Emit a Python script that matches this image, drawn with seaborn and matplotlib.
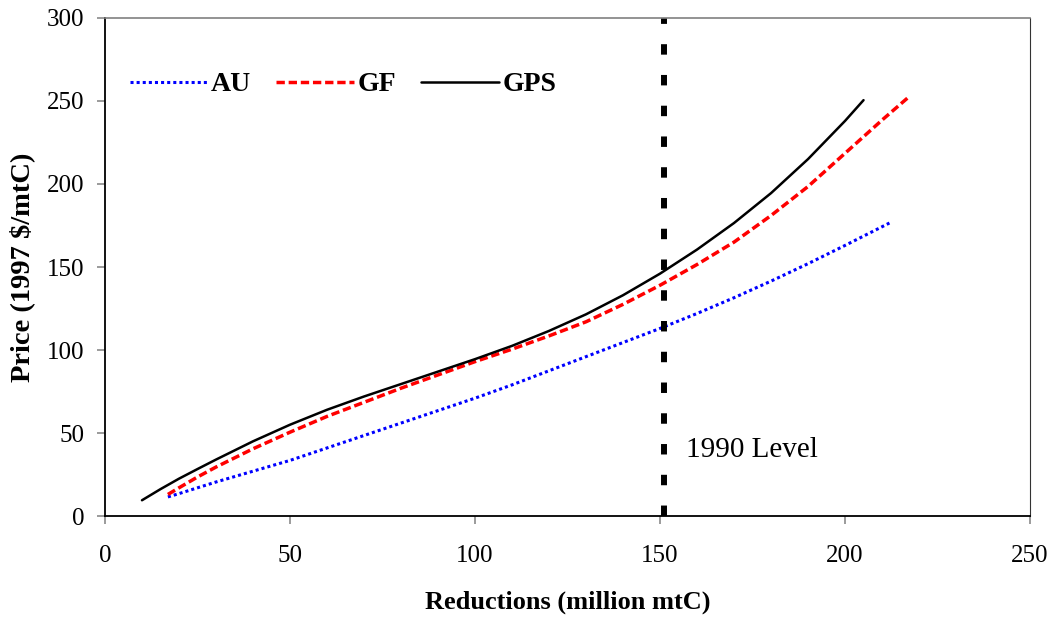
import pandas as pd
import matplotlib.pyplot as plt
import seaborn as sns

# Values
gps_x = [10, 15, 20, 25, 30, 40, 50, 60, 70, 80, 90, 100, 110, 120, 130, 140, 150, 160, 170, 180, 190, 200, 205]
gps_y = [9.5, 16.2, 22.5, 28.3, 34, 45, 55, 64, 72, 79.5, 87, 94.5, 102.5, 111.5, 121.5, 133, 146, 160.5, 176.5, 194.5, 215, 238, 250.5]
gf_x = [17, 20, 25, 30, 40, 50, 60, 70, 80, 90, 100, 110, 120, 130, 140, 150, 160, 170, 180, 190, 200, 210, 217]
gf_y = [13, 17, 23.5, 29.5, 40.5, 50.5, 60, 68.5, 77, 85, 93, 100.5, 108.5, 117, 127.5, 139, 151.5, 165, 181, 198.5, 218.5, 238.5, 252]
au_x = [17, 20, 25, 30, 40, 50, 60, 70, 80, 90, 100, 110, 120, 130, 140, 150, 160, 170, 180, 190, 200, 212]
au_y = [11.5, 13.5, 17, 20.5, 27, 33.5, 41, 48.5, 56, 63.5, 71, 79, 87.5, 96, 104.5, 113, 122, 131.5, 141.5, 152, 163, 176.5]
level_1990 = 151

sns.set_theme(style="ticks")
plt.rcParams['font.family'] = ['Liberation Serif', 'DejaVu Serif']
plt.rcParams['text.color'] = 'black'
plt.rcParams['axes.labelcolor'] = 'black'

fig = plt.figure(figsize=(10.53, 6.18), dpi=100)
ax = fig.add_axes([0.0997, 0.165, 0.8785, 0.8059])

au = pd.DataFrame({'x': au_x, 'y': au_y})
gf = pd.DataFrame({'x': gf_x, 'y': gf_y})
gps = pd.DataFrame({'x': gps_x, 'y': gps_y})

sns.lineplot(data=au, x='x', y='y', ax=ax, color='#0000ff', lw=2.2,
             linestyle=(0, (1, 1)), label='AU', sort=False)
sns.lineplot(data=gf, x='x', y='y', ax=ax, color='#ff0000', lw=2.5,
             linestyle=(0, (2.4, 1.1)), label='GF', sort=False)
sns.lineplot(data=gps, x='x', y='y', ax=ax, color='black', lw=1.8,
             label='GPS', sort=False)

ax.axvline(level_1990, color='black', lw=4.3, linestyle=(0, (1.75, 3.4)))
ax.text(157, 35.7, '1990 Level', fontsize=21, va='baseline', ha='left')

ax.set_xlim(0, 250)
ax.set_ylim(0, 300)
ax.set_xticks(range(0, 251, 50))
ax.set_yticks(range(0, 301, 50))
ax.tick_params(direction='out', length=6, width=1.1, color='#808080',
               labelcolor='black', labelsize=18)
ax.tick_params(axis='x', pad=15)
ax.tick_params(axis='y', pad=9)
ax.set_xlabel('Reductions (million mtC)', fontsize=19, fontweight='bold', labelpad=17)
ax.set_ylabel('Price (1997 $/mtC)', fontsize=20.5, fontweight='bold', labelpad=8)

for s in ['left', 'bottom']:
    ax.spines[s].set_color('black')
    ax.spines[s].set_linewidth(1.3)
ax.spines['top'].set_visible(True)
ax.spines['top'].set_color('#808080')
ax.spines['top'].set_linewidth(1.2)
ax.spines['right'].set_visible(True)
ax.spines['right'].set_color('#333333')
ax.spines['right'].set_linewidth(0.8)

ax.legend(loc='center left', bbox_to_anchor=(0.027, 0.866), ncol=3, frameon=False,
          borderaxespad=0, borderpad=0, handlelength=2.8, columnspacing=0.9,
          handletextpad=0.12, prop={'size': 20, 'weight': 'bold'})

fig.savefig('out.png', dpi=100)
